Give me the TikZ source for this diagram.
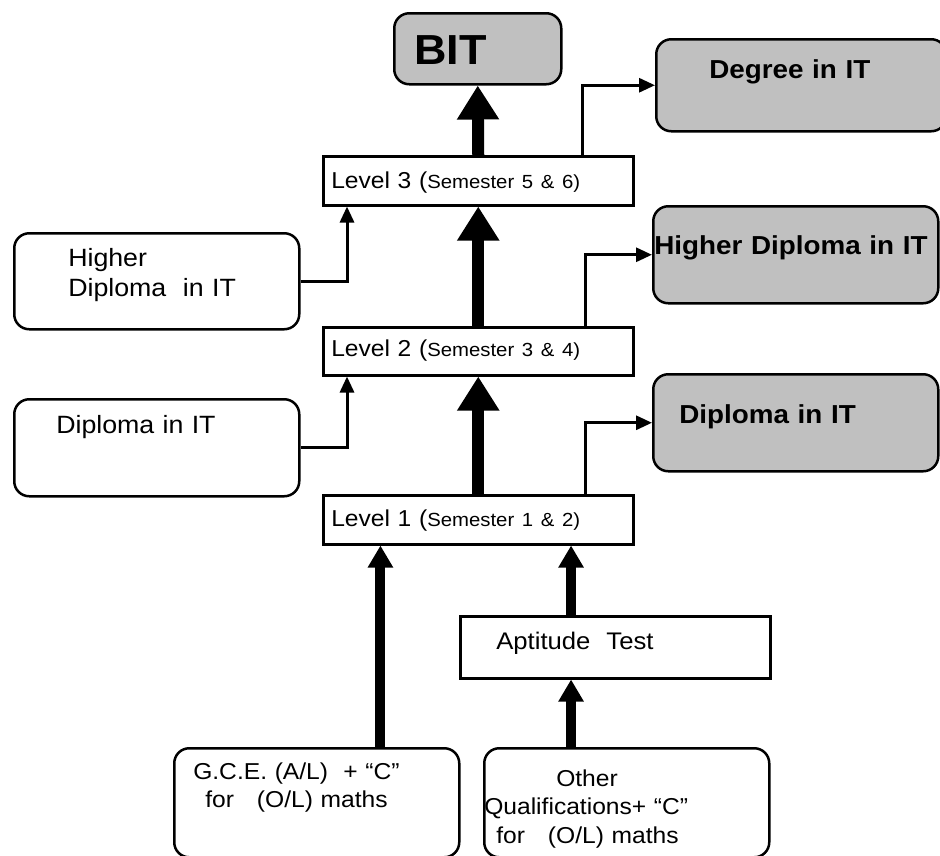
\documentclass[tikz,border=0pt]{standalone}
\usepackage{fontspec}
\setmainfont[FakeStretch=1.07]{Liberation Sans}
\usepackage{tikz}
\usetikzlibrary{arrows.meta,calc}
\definecolor{boxgray}{HTML}{C0C0C0}
\newcommand\titlefont{\fontsize{42}{48}\selectfont\bfseries}
\newcommand\awardfont{\fontsize{26}{30}\selectfont\bfseries}
\newcommand\levelfont{\fontsize{23}{27}\selectfont}
\newcommand\semfont{\fontsize{19}{23}\selectfont}
\newcommand\entryfont{\fontsize{25}{30}\selectfont}
\newcommand\qualfont{\fontsize{23}{28.5}\selectfont}
\tikzset{
box/.style={draw, line width=2.5pt, anchor=north west, inner ysep=0pt, align=left},
plainbox/.style={box, sharp corners},
roundbox/.style={box, rounded corners=15pt},
awardbox/.style={roundbox, fill=boxgray, font=\awardfont},
levelbox/.style={plainbox, inner xsep=8pt, text width=294pt, font=\levelfont},
bigarr/.style={-{Triangle[width=40pt,length=34pt]}, line width=12pt},
midarr/.style={-{Triangle[width=24pt,length=22pt]}, line width=10pt},
arr/.style={-{Triangle[width=14pt,length=16pt]}, line width=3pt},
}

\begin{document}
\begin{tikzpicture}[x=1pt, y=-1pt]
    \useasboundingbox (0,0) rectangle (940,855);

    % goal and exit awards
    \node[roundbox, fill=boxgray, font=\titlefont, inner xsep=20pt, text width=127pt,
        text height=51pt, text depth=20pt] (bit) at (393,12) {BIT};
    \node[awardbox, inner xsep=53pt, text width=184pt, text height=39pt, text depth=53pt]
        (degree) at (655,38) {Degree in IT};
    \node[awardbox, inner xsep=1pt, text width=283pt, text height=48pt, text depth=49pt]
        (hdipR) at (652,205) {Higher Diploma in IT};
    \node[awardbox, inner xsep=26pt, text width=233pt, text height=49pt, text depth=48pt]
        (dipR) at (652,373) {Diploma in IT};

    % levels
    \node[levelbox, text height=32pt, text depth=17pt] (lv3) at (322,155)
        {Level 3 ({\semfont Semester 5 \& 6)}};
    \node[levelbox, text height=29pt, text depth=19pt] (lv2) at (322,326)
        {Level 2 ({\semfont Semester 3 \& 4)}};
    \node[levelbox, text height=31pt, text depth=18pt] (lv1) at (322,494)
        {Level 1 ({\semfont Semester 1 \& 2)}};

    % lateral entry
    \node[roundbox, font=\entryfont, inner xsep=54pt, text width=177pt,
        text height=33pt, text depth=63pt] (hdipL) at (13,232) {Higher\\Diploma\ \ in IT};
    \node[roundbox, font=\entryfont, inner xsep=42pt, text width=201pt,
        text height=34pt, text depth=63pt] (dipL) at (13,398) {Diploma in IT};

    % entry qualifications
    \node[plainbox, font=\fontsize{24}{28}\selectfont, inner xsep=36pt, text width=238pt,
        text height=33pt, text depth=29pt] (apt) at (459,615) {Aptitude\ \ Test};
    \node[roundbox, font=\qualfont, inner xsep=19pt, text width=247pt,
        text height=31pt, text depth=78pt] (gce) at (173,747)
        {G.C.E. (A/L)\ \ + “C”\\\hspace*{12pt}for\ \ \ (O/L) maths};
    \node[roundbox, font=\qualfont, inner xsep=0pt, text width=285pt,
        text height=38pt, text depth=71pt] (oth) at (483,747)
        {\hspace*{72pt}Other\\Qualifications+ “C”\\\hspace*{12pt}for\ \ \ (O/L) maths};

    \coordinate (gceup) at ($(lv1.south west)!0.187!(lv1.south east)$);
    \coordinate (aptup) at ($(lv1.south west)!0.797!(lv1.south east)$);

    \draw[bigarr] (lv1.north) -- (lv2.south);
    \draw[bigarr] (lv2.north) -- (lv3.south);
    \draw[bigarr] (lv3.north) -- (bit.south);

    \draw[midarr] (gce.north -| gceup) -- (gceup);
    \draw[midarr] (apt.north -| aptup) -- (aptup);
    \draw[midarr] (oth.north -| aptup) -- (apt.south -| aptup);

    \draw[arr] (hdipL.east) -| ($(lv3.south west)!0.08!(lv3.south east)$);
    \draw[arr] (dipL.east) -| ($(lv2.south west)!0.08!(lv2.south east)$);
    \draw[arr] ($(lv3.north west)!0.832!(lv3.north east)$) |- (degree.west);
    \draw[arr] ($(lv2.north west)!0.842!(lv2.north east)$) |- (hdipR.west);
    \draw[arr] ($(lv1.north west)!0.842!(lv1.north east)$) |- (dipR.west);
\end{tikzpicture}
\end{document}
